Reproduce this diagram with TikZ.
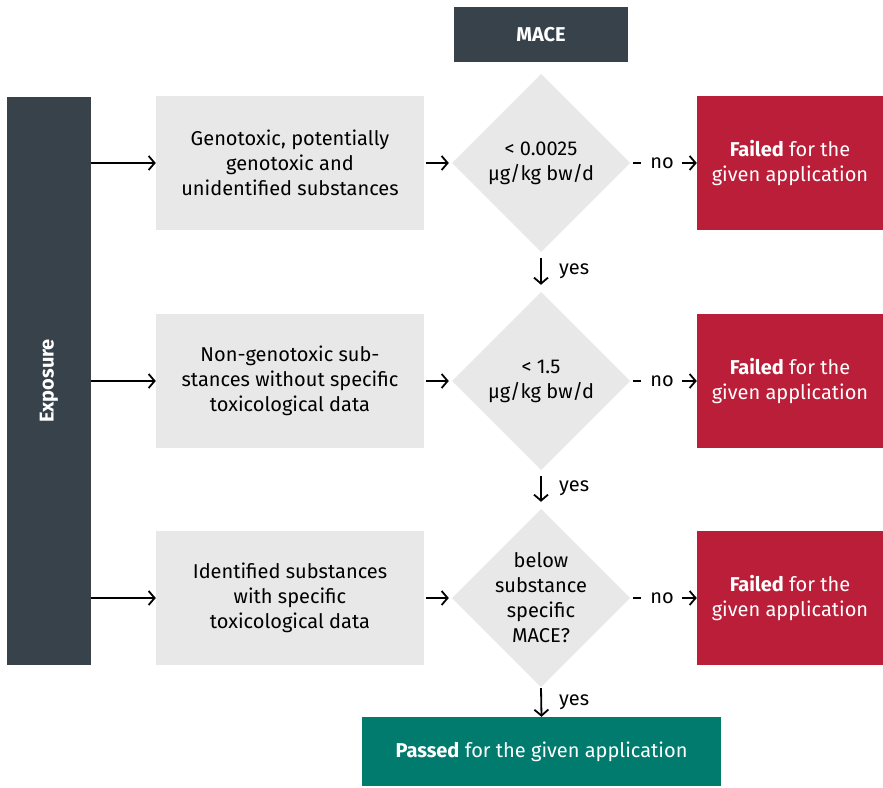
\documentclass[tikz,border=0pt]{standalone}
\usepackage{fontspec}
\setmainfont{Fira Sans}
\usetikzlibrary{shapes.geometric,arrows.meta,positioning}
\definecolor{darkslate}{HTML}{37424A}
\definecolor{lightbox}{HTML}{E8E8E8}
\definecolor{failred}{HTML}{BA1E38}
\definecolor{passgreen}{HTML}{007B6E}
\newcommand{\txtsize}{\fontsize{20}{25}\selectfont}
\tikzset{
  box/.style={fill=lightbox, minimum width=268pt, minimum height=134pt, align=center,
    font=\txtsize, text=black},
  decision/.style={align=center, font=\txtsize, text=black,
    minimum width=178pt, minimum height=178pt},
  failbox/.style={fill=failred, minimum width=186pt, minimum height=134pt, align=center,
    text=white, font=\txtsize},
  arr/.style={line width=1.8pt, -{Straight Barb[length=6pt,width=14pt,line width=1.8pt]}},
  lbl/.style={font=\txtsize, inner sep=0pt},
}
\begin{document}
\begin{tikzpicture}[x=1pt,y=-1pt]
\useasboundingbox (0,0) rectangle (883,787);

% header and exposure bar
\node[fill=darkslate, minimum width=174pt, minimum height=55pt, text=white,
  font=\bfseries\txtsize] (mace) at (541,34.5) {MACE};
\node[fill=darkslate, minimum width=84pt, minimum height=568pt] (expo) at (49,381) {};
\node[rotate=90, text=white, font=\bfseries\txtsize] (expolbl) at (49,381) {Exposure};

% substance classes
\node[box] (b1) at (290,163) {Genotoxic, potentially\\genotoxic and\\unidentified substances};
\node[box] (b2) at (290,381) {Non-genotoxic sub-\\stances without specific\\toxicological data};
\node[box] (b3) at (290,598) {Identified substances\\with specific\\toxicological data};

% thresholds: grey diamonds behind the text nodes
\foreach \y in {163,381,598}{
  \fill[lightbox] (541,\y-89) -- (630,\y) -- (541,\y+89) -- (452,\y) -- cycle;
}
\node[decision] (d1) at (541,163) {< 0.0025\\µg/kg bw/d};
\node[decision] (d2) at (541,381) {< 1.5\\µg/kg bw/d};
\node[decision] (d3) at (541,598) {below\\substance\\specific\\MACE?};

% outcomes
\node[failbox] (f1) at (790,163) {\textbf{Failed} for the\\given application};
\node[failbox] (f2) at (790,381) {\textbf{Failed} for the\\given application};
\node[failbox] (f3) at (790,598) {\textbf{Failed} for the\\given application};
\node[fill=passgreen, minimum width=359pt, minimum height=69pt, text=white,
  font=\txtsize] (pass) at (541.5,751.5) {\textbf{Passed} for the given application};

% exposure to classes, classes to thresholds, thresholds to failures
\foreach \i/\y in {1/163,2/381,3/598}{
  \coordinate (e\i) at (91,\y);
  \draw[arr] (e\i) -- (b\i.west);
  \draw[arr] ([xshift=2pt]b\i.east) -- ([xshift=-3pt]d\i.west);
  \node[lbl] (no\i) at (662,\y) {no};
  \draw[line width=2pt] ([xshift=3pt]d\i.east) -- ([xshift=11pt]d\i.east);
  \draw[arr] ([xshift=8pt]no\i.east) -- (f\i.west);
}

% yes branches
\draw[arr] ([yshift=-6pt]d1.south) -- ([yshift=7pt]d2.north);
\node[lbl, anchor=west] (y1) at (559,271) {yes};
\draw[arr] ([yshift=-6pt]d2.south) -- ([yshift=7pt]d3.north);
\node[lbl, anchor=west] (y2) at (559,488) {yes};
\draw[arr] ([yshift=-1pt]d3.south) -- (pass.north);
\node[lbl, anchor=west] (y3) at (559,702) {yes};
\end{tikzpicture}
\end{document}
